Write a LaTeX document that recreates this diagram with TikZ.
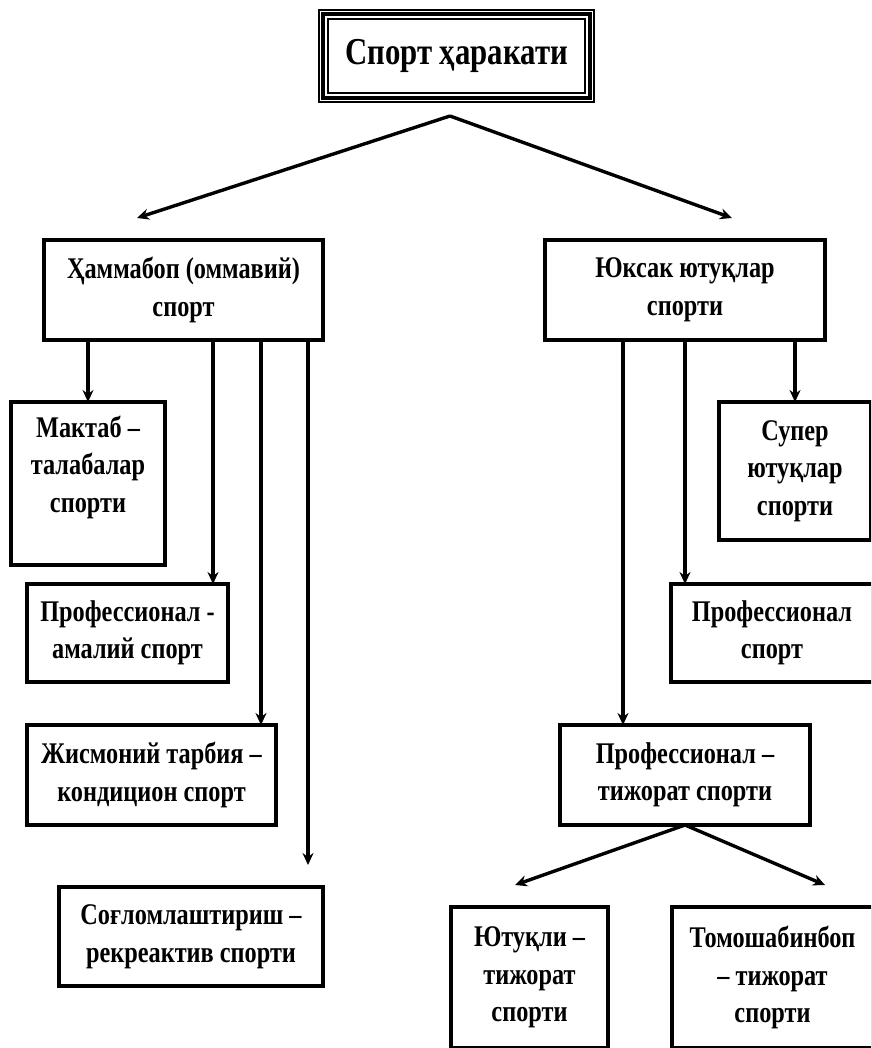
\documentclass[tikz,border=0pt]{standalone}
\usepackage{fontspec}
\setmainfont[FakeStretch=0.81]{Liberation Serif}
\usepackage{tikz}
\usetikzlibrary{arrows.meta,positioning,calc}
\definecolor{ink}{HTML}{000000}
\newcommand{\boxfont}{\fontsize{30}{37.5}\selectfont\bfseries}
\newcommand{\headfont}{\fontsize{38}{42}\selectfont\bfseries}
\tikzset{
  card/.style={draw=ink,line width=4pt,inner sep=0pt,outer sep=0pt,
               align=center,font=\boxfont},
  cardtext/.style={inner sep=0pt,align=center,font=\boxfont},
  headbox/.style={draw=ink,line width=2pt,inner sep=0pt,outer sep=0pt,
                  font=\headfont,minimum width=275pt,minimum height=92pt},
  arr/.style={-{Stealth[length=12pt,width=11pt]},line width=3.4pt,draw=ink}
}

\begin{document}
\begin{tikzpicture}[x=1pt,y=-1pt]
    \clip (0,0) rectangle (871,1048);
    \useasboundingbox (0,0) rectangle (871,1048);
    % top
    \node[headbox] (sport) at (456.5,56) {Спорт ҳаракати};
    \draw[line width=4pt] ([shift={(4,4)}]sport.north west) rectangle
      ([shift={(-4,-4)}]sport.south east);
    \draw[line width=2pt] ([shift={(9,9)}]sport.north west) rectangle
      ([shift={(-9,-9)}]sport.south east);
    \coordinate (apex) at (450,116);
    \coordinate (lefttip) at (137,218);
    \coordinate (righttip) at (732,218);
    \node[card,minimum width=279,minimum height=100] (mass) at (183.5,290)
      {Ҳаммабоп (оммавий)\\спорт};
    \node[card,minimum width=280,minimum height=100] (elite) at (685,290)
      {Юксак ютуқлар\\спорти};
    \draw[arr] (apex) -- (lefttip);
    \draw[arr] (apex) -- (righttip);
    % left branch
    \node[card,minimum width=154,minimum height=163] (school) at (88,483.5) {};
    \node[cardtext] (schooltext) at (88,467) {Мактаб –\\талабалар\\спорти};
    \node[card,minimum width=201,minimum height=98] (applied) at (127.5,633)
      {Профессионал -\\амалий спорт};
    \node[card,minimum width=249,minimum height=100] (cond) at (151.5,775)
      {Жисмоний тарбия –\\кондицион спорт};
    \node[card,minimum width=264,minimum height=99] (recr) at (191,936.5)
      {Соғломлаштириш –\\рекреактив спорти};
    \coordinate (recrtip) at (308,865);
    \draw[arr] (mass.south -| school.north) -- (school.north);
    \draw[arr] (213,0 |- mass.south) -- (213,0 |- applied.north);
    \draw[arr] (261,0 |- mass.south) -- (261,0 |- cond.north);
    \draw[arr] (mass.south -| recrtip) -- (recrtip);
    % right branch
    \node[card,minimum width=152,minimum height=138] (super) at (795,471)
      {Супер\\ютуқлар\\спорти};
    \node[card,minimum width=202,minimum height=98] (pro) at (772,633)
      {Профессионал\\спорт};
    \node[card,minimum width=250,minimum height=100] (trade) at (685,775)
      {Профессионал –\\тижорат спорти};
    \draw[arr] (elite.south -| super.north) -- (super.north);
    \draw[arr] (685,0 |- elite.south) -- (685,0 |- pro.north);
    \draw[arr] (623,0 |- elite.south) -- (623,0 |- trade.north);
    % bottom
    \node[card,minimum width=157,minimum height=141] (win) at (529.5,977.5)
      {Ютуқли –\\тижорат\\спорти};
    \node[card,minimum width=201,minimum height=141] (show) at (772.5,977.5)
      {Томошабинбоп\\– тижорат\\спорти};
    \coordinate (wintip) at (515,885);
    \coordinate (showtip) at (825,885);
    \draw[arr] (trade.south) -- (wintip);
    \draw[arr] (trade.south) -- (showtip);
  \end{tikzpicture}
\end{document}
